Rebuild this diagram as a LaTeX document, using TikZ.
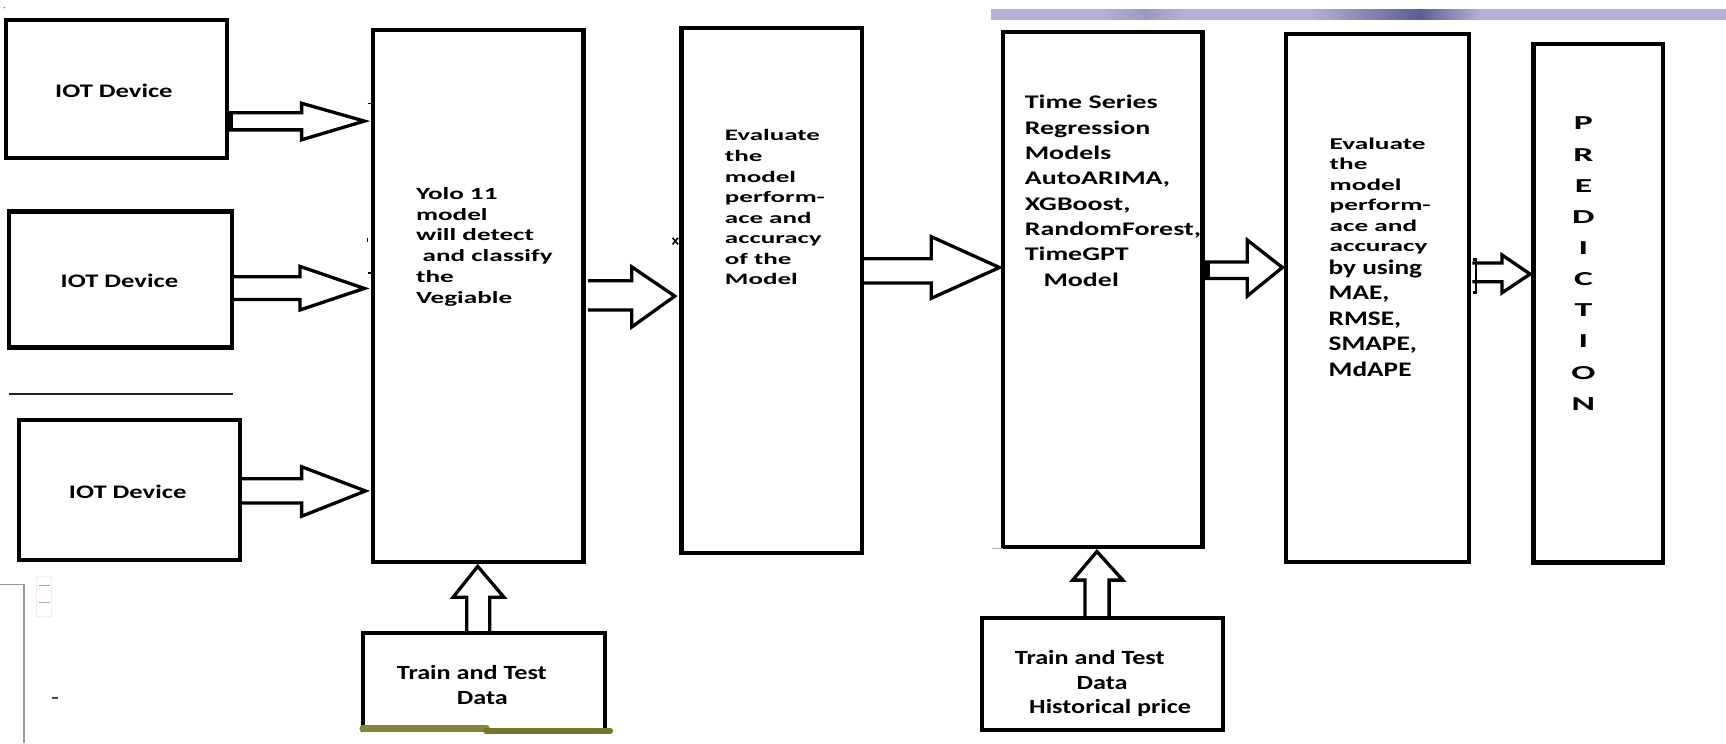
\documentclass[tikz,border=0pt]{standalone}
\usepackage{fontspec}
\setmainfont{Carlito}
\newfontfamily\fiot{Carlito}[FakeStretch=1.39]
\newfontfamily\fyolo{Carlito}[FakeStretch=1.59]
\newfontfamily\fevo{Carlito}[FakeStretch=1.69]
\newfontfamily\fts{Carlito}[FakeStretch=1.45]
\newfontfamily\fevt{Carlito}[FakeStretch=1.65]
\newfontfamily\fevb{Carlito}[FakeStretch=1.32]
\newfontfamily\fpred{Carlito}[FakeStretch=1.8]
\newfontfamily\ftrain{Carlito}[FakeStretch=1.3]
\usetikzlibrary{calc}
\definecolor{lav}{HTML}{B3B2D4}
\definecolor{lavd}{HTML}{5E5D95}
\definecolor{olivea}{HTML}{86843A}
\definecolor{oliveb}{HTML}{77752A}
\newcommand\firstline{\rule{0pt}{20pt}}
\begin{document}
\begin{tikzpicture}[x=1pt,y=-1pt,
  blk/.style={draw=black, line width=4pt, inner sep=0pt, outer sep=0pt},
  arr/.style={draw=black, line width=3pt, line join=miter},
  txt/.style={inner sep=0pt, outer sep=0pt, align=left, anchor=north west, text=black},
  lbl/.style={inner sep=0pt, outer sep=0pt, anchor=base, text=black},
  speck/.style={draw=black, line width=1.6pt},
]
\useasboundingbox (0,0) rectangle (1568,675);
\fill[white] (0,0) rectangle (1568,675);

% top lavender bar
\fill[lav] (900,8.5) rectangle (1568,18);
\shade[left color=lav, right color=lavd] (1190,8.5) rectangle (1290,18);
\shade[left color=lavd, right color=lav] (1290,8.5) rectangle (1345,18);
\shade[left color=lav, right color=lav!70!lavd] (1000,8.5) rectangle (1040,18);
\shade[left color=lav!70!lavd, right color=lav] (1040,8.5) rectangle (1075,18);

% boxes
\node[blk, minimum width=200.5pt, minimum height=125.7pt] (iot1) at (105.75,80.85) {};
\node[blk, minimum width=202.5pt, minimum height=123.5pt] (iot2) at (109.25,253.75) {};
\node[blk, minimum width=201pt, minimum height=127.2pt] (iot3) at (117.5,445.1) {};
\node[blk, minimum width=191pt, minimum height=483.5pt] (yolo) at (434.5,268.75) {};
\node[blk, minimum width=164pt, minimum height=477pt] (eval1) at (701,263.8) {};
\node[blk, minimum width=181.5pt, minimum height=468.2pt] (ts) at (1001.75,262.9) {};
\node[blk, minimum width=166.6pt, minimum height=479.5pt] (eval2) at (1251.3,270.75) {};
\node[blk, minimum width=118pt, minimum height=471pt] (pred) at (1452,275.5) {};
\node[blk, minimum width=220.1pt, minimum height=88pt] (train1) at (439.55,619) {};
\node[blk, minimum width=219pt, minimum height=101.4pt] (train2) at (1001.5,612.3) {};

% separator line
\draw[line width=2.4pt, black!85] (8,358) -- (212,358);

% olive underline of train1
\draw[olivea, line width=6pt, line cap=round] (train1.south west) ++(0,-1) -- (442,662);
\draw[oliveb, line width=6pt, line cap=round] (442,664) -- (554,664);

% texts
\node[lbl, font=\fiot\bfseries\fontsize{17.4}{21}\selectfont] (tiot1) at (103.5,89) {IOT Device};
\node[lbl, font=\fiot\bfseries\fontsize{17.4}{21}\selectfont] (tiot2) at (108.5,261.5) {IOT Device};
\node[lbl, font=\fiot\bfseries\fontsize{17.4}{21}\selectfont] (tiot3) at (116,452.5) {IOT Device};

\node[txt, font=\fyolo\bfseries\fontsize{15.5}{18.9}\selectfont] (tyolo) at (378,161)
  {\firstline Yolo 11\\model\\will detect\\\hspace{6pt}and classify\\the\\Vegiable};
\node[txt, font=\fevo\bfseries\fontsize{14.5}{18.7}\selectfont] (tev1) at (658.6,108)
  {\firstline Evaluate\\the\\model\\perform-\\ace and\\accuracy\\of the\\Model};
\node[txt, font=\fts\bfseries\fontsize{17.5}{23}\selectfont] (tts) at (931,79)
  {\firstline Time Series\\Regression\\Models\\AutoARIMA,\\XGBoost,\\RandomForest,\\TimeGPT\\\hspace{17pt}Model};
\node[txt, font=\fevt\bfseries\fontsize{15}{18.6}\selectfont] (tev2a) at (1208,115.5)
  {\firstline Evaluate\\the\\model\\perform-\\ace and\\accuracy};
\node[txt, font=\fevb\bfseries\fontsize{18.8}{23.15}\selectfont] (tev2b) at (1207,229)
  {\firstline by using\\MAE,\\RMSE,\\SMAPE,\\MdAPE};
\node[inner sep=0pt, outer sep=0pt, align=center, anchor=north, font=\fpred\bfseries\fontsize{18}{28.3}\selectfont] (tpred) at (1438.5,98)
  {\firstline P\\R\\E\\D\\I\\C\\T\\I\\O\\N};
\node[txt, font=\ftrain\bfseries\fontsize{18.3}{23.4}\selectfont] (ttr1) at (360.6,597)
  {\firstline Train and Test\\\hspace{54.4pt}Data};
\node[txt, font=\ftrain\bfseries\fontsize{18.3}{22.3}\selectfont] (ttr2) at (922,584)
  {\firstline Train and Test\\\hspace{56pt}Data\\\hspace{13pt}Historical price};

% block arrows
\draw[arr] (iot1.east |- 0,102.4) -- (274,102.4) -- (274,93.8) -- ($(yolo.west |- 0,110)+(-8,0)$) -- (274,127) -- (274,118) -- (iot1.east |- 0,118);
\draw[arr] (iot2.east |- 0,251.5) -- (272.5,251.5) -- (272.5,242) -- ($(yolo.west |- 0,262)+(-8,0)$) -- (272.5,281.6) -- (272.5,272) -- (iot2.east |- 0,272);
\draw[arr] (iot3.east |- 0,435) -- (274,435) -- (274,424) -- ($(yolo.west |- 0,446)+(-7,0)$) -- (274,469) -- (274,457) -- (iot3.east |- 0,457);
\draw[arr] ($(yolo.east |- 0,255)+(4,0)$) -- (574,255) -- (574,242.5) -- ($(eval1.west |- 0,269)+(-6,0)$) -- (574,297) -- (574,281.6) -- ($(yolo.east |- 0,281.6)+(4,0)$);
\draw[arr] (eval1.east |- 0,235) -- (846,235) -- (846,215) -- ($(ts.west |- 0,243)+(-3,0)$) -- (846,271) -- (846,257) -- (eval1.east |- 0,257);
\draw[arr] (ts.east |- 0,238) -- (1133,238) -- (1133,218) -- ($(eval2.west |- 0,243)+(-3,0)$) -- (1133,269) -- (1133,253) -- (ts.east |- 0,253);
\draw[arr] ($(eval2.east |- 0,239)+(3,0)$) -- (1364.5,239) -- (1364.5,231.6) -- ($(pred.west |- 0,249)+(-3,0)$) -- (1364.5,266) -- (1364.5,256) -- ($(eval2.east |- 0,256)+(3,0)$);
\draw[arr] (train1.north -| 424,0) -- (424,542.5) -- (411.6,542.5) -- ($(yolo.south -| 434,0)+(0,4)$) -- (457.8,542.5) -- (445,542.5) -- (train1.north -| 445,0);
\draw[arr] (train2.north -| 985.6,0) -- (985.6,527) -- (974.5,527) -- ($(ts.south -| 996.5,0)+(0,4)$) -- (1020,527) -- (1007.6,527) -- (train2.north -| 1007.6,0);

% small marks at arrow starts and edges
\fill[black] (iot1.east |- 0,102) rectangle (212,118);
\fill[black] (ts.east |- 0,238) rectangle (1099,253);
\draw[speck, line width=2.4pt] (1338,236) -- (1341,236) -- (1341,266) -- (1338,266);
\draw[speck] (334,94) -- (339,94);
\draw[speck] (334,248) -- (339,248);
\draw[speck, line width=1pt] (334,216) -- (334,220);
\draw[speck, line width=2.6pt] (531.5,212) -- (531.5,236);
\draw[speck, line width=1.4pt] (611,216) -- (616,222) (611,222) -- (616,216);
\draw[gray!60, line width=0.8pt] (901,497.8) -- (911,497.8);

% left-side artifacts
\draw[gray!80, line width=1pt] (0,531) -- (21.8,531) -- (21.8,675);
\draw[gray!12, line width=0.8pt] (33,524) rectangle (47,560);
\draw[gray!70, line width=1pt] (35,532) -- (45,532);
\draw[violet!40, line width=1pt] (35,547.5) -- (45,547.5);
\draw[black!70, line width=1.2pt] (47,634) -- (53,634);
\fill[gray] (4,7) circle (0.8);
\end{tikzpicture}
\end{document}
